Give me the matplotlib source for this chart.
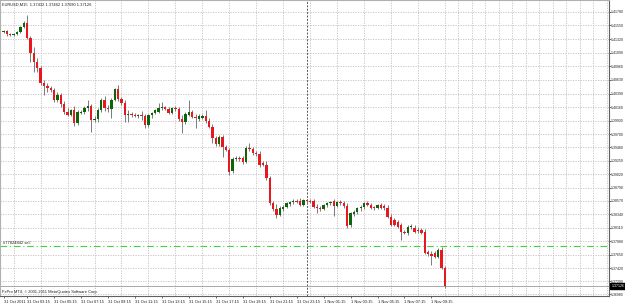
import matplotlib
matplotlib.use("Agg")
import matplotlib.pyplot as plt
import matplotlib.transforms as mtransforms
import numpy as np
import pandas as pd

plt.rcParams["font.family"] = ["Liberation Sans", "DejaVu Sans"]

SYMBOL = "EURUSD,M15"
COPYRIGHT = "FxPro MT4, \u00a9 2001-2011 MetaQuotes Software Corp."

# M15 bars from 31 Oct 2011 01:30 to 1 Nov 2011 10:15
FIRST_BAR = "2011-10-31 01:30"

OPEN = [
    1.41440, 1.41457, 1.41406, 1.41389, 1.41406, 1.41440, 1.41525, 1.41593, 1.41338, 1.41083,
    1.40930, 1.40828, 1.40573, 1.40522, 1.40488, 1.40454, 1.40284, 1.40369, 1.40216, 1.40080,
    1.40029, 1.40114, 1.39893, 1.40063, 1.40080, 1.40148, 1.40182, 1.39944, 1.39961, 1.40114,
    1.40284, 1.40148, 1.40131, 1.40284, 1.40471, 1.40301, 1.40233, 1.40029, 1.40046, 1.40029,
    1.40012, 1.40029, 1.40012, 1.39859, 1.40029, 1.40063, 1.40080, 1.40148, 1.40165, 1.40131,
    1.40063, 1.40148, 1.40131, 1.39961, 1.39910, 1.40029, 1.40080, 1.39995, 1.39961, 1.39978,
    1.40012, 1.39927, 1.39825, 1.39638, 1.39536, 1.39655, 1.39485, 1.39434, 1.39077, 1.39281,
    1.39298, 1.39298, 1.39230, 1.39468, 1.39451, 1.39383, 1.39366, 1.39213, 1.39179, 1.38958,
    1.38533, 1.38431, 1.38329, 1.38431, 1.38465, 1.38516, 1.38550, 1.38567, 1.38567, 1.38499,
    1.38584, 1.38567, 1.38567, 1.38465, 1.38448, 1.38431, 1.38499, 1.38533, 1.38567, 1.38482,
    1.38550, 1.38533, 1.38482, 1.38159, 1.38346, 1.38380, 1.38448, 1.38465, 1.38533, 1.38499,
    1.38448, 1.38440, 1.38499, 1.38482, 1.38448, 1.38295, 1.38244, 1.38210, 1.38159, 1.38040,
    1.38023, 1.38125, 1.38108, 1.38074, 1.38074, 1.38040, 1.37700, 1.37666, 1.37683, 1.37615,
    1.37734, 1.37432,
]
HIGH = [
    1.41474, 1.41474, 1.41423, 1.41423, 1.41457, 1.41542, 1.41627, 1.41729, 1.41372, 1.41185,
    1.40998, 1.40862, 1.40624, 1.40573, 1.40522, 1.40488, 1.40420, 1.40403, 1.40267, 1.40148,
    1.40131, 1.40182, 1.40114, 1.40114, 1.40182, 1.40284, 1.40216, 1.40012, 1.40148, 1.40318,
    1.40352, 1.40199, 1.40318, 1.40488, 1.40539, 1.40335, 1.40284, 1.40114, 1.40080, 1.40063,
    1.40046, 1.40097, 1.40046, 1.40046, 1.40080, 1.40131, 1.40233, 1.40250, 1.40182, 1.40165,
    1.40165, 1.40182, 1.40165, 1.40029, 1.40080, 1.40284, 1.40114, 1.40046, 1.40046, 1.40046,
    1.40114, 1.39978, 1.39876, 1.39672, 1.39689, 1.39689, 1.39519, 1.39468, 1.39315, 1.39332,
    1.39332, 1.39332, 1.39502, 1.39553, 1.39485, 1.39417, 1.39417, 1.39247, 1.39247, 1.38992,
    1.38567, 1.38516, 1.38482, 1.38499, 1.38550, 1.38567, 1.38601, 1.38601, 1.38618, 1.38601,
    1.38601, 1.38601, 1.38601, 1.38516, 1.38482, 1.38516, 1.38550, 1.38567, 1.38601, 1.38567,
    1.38584, 1.38567, 1.38533, 1.38380, 1.38414, 1.38465, 1.38499, 1.38550, 1.38567, 1.38533,
    1.38482, 1.38516, 1.38533, 1.38516, 1.38499, 1.38346, 1.38278, 1.38244, 1.38193, 1.38074,
    1.38159, 1.38176, 1.38159, 1.38125, 1.38108, 1.38091, 1.37734, 1.37717, 1.37717, 1.37768,
    1.37785, 1.37462,
]
LOW = [
    1.41423, 1.41372, 1.41372, 1.41372, 1.41389, 1.41423, 1.41508, 1.41321, 1.40930, 1.40760,
    1.40760, 1.40539, 1.40369, 1.40420, 1.40420, 1.40250, 1.40250, 1.40165, 1.40046, 1.40012,
    1.40012, 1.39842, 1.39859, 1.40046, 1.40046, 1.40097, 1.39740, 1.39910, 1.39910, 1.40080,
    1.40097, 1.40080, 1.39978, 1.40267, 1.40267, 1.40199, 1.39910, 1.39910, 1.39995, 1.39995,
    1.39978, 1.39944, 1.39808, 1.39825, 1.39978, 1.40046, 1.40063, 1.40114, 1.40114, 1.40046,
    1.40046, 1.40097, 1.39927, 1.39723, 1.39876, 1.40012, 1.39978, 1.39808, 1.39927, 1.39961,
    1.39893, 1.39808, 1.39553, 1.39502, 1.39502, 1.39315, 1.39417, 1.39009, 1.39043, 1.39247,
    1.39247, 1.39196, 1.39213, 1.39417, 1.39349, 1.39332, 1.39145, 1.39162, 1.38924, 1.38499,
    1.38397, 1.38278, 1.38312, 1.38397, 1.38448, 1.38482, 1.38516, 1.38533, 1.38482, 1.38482,
    1.38533, 1.38533, 1.38448, 1.38363, 1.38397, 1.38414, 1.38465, 1.38499, 1.38312, 1.38465,
    1.38499, 1.38448, 1.38108, 1.38125, 1.38312, 1.38346, 1.38397, 1.38431, 1.38482, 1.38431,
    1.38414, 1.38431, 1.38431, 1.38414, 1.38278, 1.38142, 1.38142, 1.38108, 1.37904, 1.38006,
    1.37989, 1.38091, 1.38023, 1.38023, 1.38006, 1.37666, 1.37632, 1.37479, 1.37598, 1.37598,
    1.37411, 1.37090,
]
CLOSE = [
    1.41457, 1.41406, 1.41389, 1.41406, 1.41440, 1.41525, 1.41593, 1.41338, 1.41083, 1.40930,
    1.40828, 1.40573, 1.40522, 1.40488, 1.40454, 1.40284, 1.40369, 1.40216, 1.40080, 1.40029,
    1.40114, 1.39893, 1.40080, 1.40080, 1.40148, 1.40182, 1.39944, 1.39961, 1.40114, 1.40284,
    1.40148, 1.40131, 1.40284, 1.40471, 1.40301, 1.40233, 1.40029, 1.40046, 1.40029, 1.40012,
    1.40029, 1.40012, 1.39859, 1.40029, 1.40063, 1.40114, 1.40148, 1.40165, 1.40131, 1.40063,
    1.40148, 1.40131, 1.39961, 1.39910, 1.40046, 1.40080, 1.39995, 1.39978, 1.40012, 1.40012,
    1.39927, 1.39825, 1.39638, 1.39536, 1.39655, 1.39485, 1.39434, 1.39060, 1.39281, 1.39298,
    1.39281, 1.39230, 1.39468, 1.39451, 1.39383, 1.39366, 1.39179, 1.39179, 1.38958, 1.38533,
    1.38431, 1.38329, 1.38448, 1.38465, 1.38533, 1.38550, 1.38567, 1.38550, 1.38499, 1.38584,
    1.38567, 1.38550, 1.38465, 1.38448, 1.38431, 1.38499, 1.38533, 1.38550, 1.38482, 1.38550,
    1.38533, 1.38482, 1.38142, 1.38363, 1.38380, 1.38448, 1.38465, 1.38533, 1.38499, 1.38448,
    1.38440, 1.38499, 1.38448, 1.38448, 1.38295, 1.38159, 1.38159, 1.38125, 1.38040, 1.38023,
    1.38125, 1.38142, 1.38040, 1.38057, 1.38023, 1.37683, 1.37666, 1.37632, 1.37615, 1.37734,
    1.37428, 1.37126,
]

PRICE_TICKS = [
    1.41780, 1.41550, 1.41320, 1.41090, 1.40860, 1.40630, 1.40390, 1.40160, 1.39930, 1.39700,
    1.39480, 1.39250, 1.39020, 1.38790, 1.38570, 1.38340, 1.38110, 1.37880, 1.37650, 1.37420,
    1.37200, 1.36980,
]

TIME_TICKS = [
    "2011-10-31 01:30", "2011-10-31 03:15", "2011-10-31 05:15", "2011-10-31 07:15",
    "2011-10-31 09:15", "2011-10-31 11:15", "2011-10-31 13:15", "2011-10-31 15:15",
    "2011-10-31 17:15", "2011-10-31 19:15", "2011-10-31 21:15", "2011-10-31 23:15",
    "2011-11-01 01:15", "2011-11-01 03:15", "2011-11-01 05:15", "2011-11-01 07:15",
    "2011-11-01 09:15",
]
TIME_LABELS = [
    "31 Oct 2011", "31 Oct 03:15", "31 Oct 05:15", "31 Oct 07:15", "31 Oct 09:15",
    "31 Oct 11:15", "31 Oct 13:15", "31 Oct 15:15", "31 Oct 17:15", "31 Oct 19:15",
    "31 Oct 21:15", "31 Oct 23:15", "1 Nov 01:15", "1 Nov 03:15", "1 Nov 05:15",
    "1 Nov 07:15", "1 Nov 09:15",
]
DAY_BREAK = "2011-11-01 00:00"

ORDER_PRICE = 1.37802
ORDER_LABEL = "#77824842 sell"

BULL = "#0b660b"
BEAR = "#e8181e"
WICK = "#7a7a7a"
GRID = "#c6bebe"

times = pd.date_range(FIRST_BAR, periods=len(CLOSE), freq="15min")
pos = {t: i for i, t in enumerate(times)}
x = np.arange(len(CLOSE))
o = np.array(OPEN)
h = np.array(HIGH)
l = np.array(LOW)
c = np.array(CLOSE)

fig = plt.figure(figsize=(6.25, 3.03), dpi=100)
ax = fig.add_axes([0.0, 0.0215, 0.9744, 0.9769])
ax.set_facecolor("white")
ax.set_xlim(-1.05, 179.7)
ax.set_ylim(1.36944, 1.41975)

# grid: every hour vertically, at price labels horizontally
ax.set_xticks(np.arange(3, 180, 4), minor=True)
ax.grid(axis="x", which="minor", color=GRID, linestyle=(0, (1.5, 1.5)), linewidth=0.6)
ax.set_yticks(PRICE_TICKS)
ax.set_yticklabels([f"{v:.5f}" for v in PRICE_TICKS])
ax.grid(axis="y", which="major", color=GRID, linestyle=(0, (1.5, 1.5)), linewidth=0.6)
ax.set_axisbelow(True)

# day separator
ax.axvline(pos[pd.Timestamp(DAY_BREAK)], color="#555555", linewidth=0.7,
           linestyle=(0, (2, 1.5)), zorder=1)

# candles
ax.vlines(x, l, h, color=WICK, linewidth=0.7, zorder=2)
body = np.abs(c - o)
body = np.where(body < 0.00017, 0.00017, body)
colors = [BULL if cc > oo else (BEAR if cc < oo else WICK) for oo, cc in zip(o, c)]
ax.bar(x, body, bottom=np.minimum(o, c), width=0.7, color=colors, linewidth=0, zorder=3)

# order line and bid line
ax.axhline(ORDER_PRICE, color="#45d045", linewidth=0.8, linestyle=(0, (6, 2.5, 1, 2.5)), zorder=1.5)
ax.annotate(ORDER_LABEL, xy=(0, ORDER_PRICE), xycoords=("axes fraction", "data"),
            xytext=(3, 1), textcoords="offset pixels", ha="left", va="bottom",
            fontsize=2.9, color="#202020")
ax.axhline(CLOSE[-1], color="#a8a8a8", linewidth=0.7, zorder=1.5)

trans = mtransforms.blended_transform_factory(ax.transAxes, ax.transData)
ax.text(1.004, CLOSE[-1], f"{CLOSE[-1]:.5f}", transform=trans, ha="left", va="center",
        fontsize=2.5, color="white",
        bbox=dict(boxstyle="square,pad=0.3", fc="black", ec="black"), zorder=5, clip_on=False)

# header and footer texts
ax.text(0.004, 0.987, f"{SYMBOL}  {OPEN[-1]:.5f} {HIGH[-1]:.5f} {LOW[-1]:.5f} {CLOSE[-1]:.5f}",
        transform=ax.transAxes, ha="left", va="center", fontsize=2.9, color="#202020")
ax.text(0.003, 0.016, COPYRIGHT, transform=ax.transAxes, ha="left", va="center",
        fontsize=2.9, color="#202020")

# axes
ax.set_xticks([pos[pd.Timestamp(t)] for t in TIME_TICKS])
ax.set_xticklabels(TIME_LABELS)
for lbl in ax.get_xticklabels():
    lbl.set_horizontalalignment("left")
ax.yaxis.tick_right()
ax.tick_params(axis="x", which="major", labelsize=2.9, length=1.6, width=0.6,
               color="#505050", pad=0.6, labelcolor="#202020")
ax.tick_params(axis="y", which="major", labelsize=2.5, length=1.2, width=0.6,
               color="#505050", pad=0.4, labelcolor="#202020")
ax.tick_params(axis="x", which="minor", length=0)
for side in ["top", "left"]:
    ax.spines[side].set_color("#b0b0b0")
    ax.spines[side].set_linewidth(0.8)
for side in ["bottom", "right"]:
    ax.spines[side].set_color("#606060")
    ax.spines[side].set_linewidth(0.8)

fig.savefig("out.png", dpi=100)
plt.close(fig)
